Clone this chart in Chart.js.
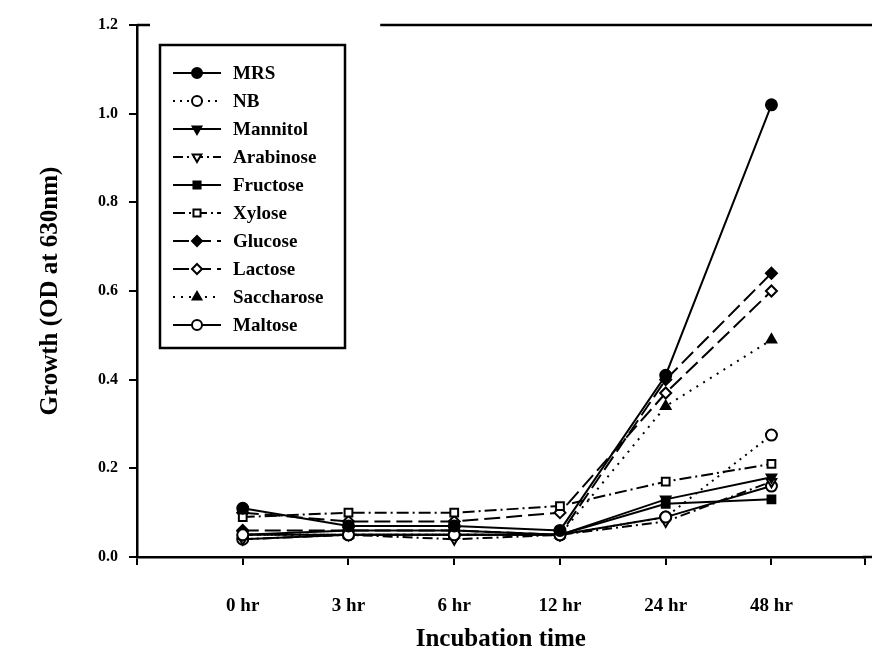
<!DOCTYPE html>
<html>
<head>
<title>Growth by carbon source</title>
<script src="https://cdn.jsdelivr.net/npm/chart.js@4.4.2/dist/chart.umd.min.js"></script>
<style>
html, body {
    margin: 0;
    padding: 0;
    background: #fff;
}
#wrap {
    width: 872px;
    height: 661px;
}
</style>
</head>
<body>
<div id="wrap"><canvas id="chart"></canvas></div>
<script>
// time points (x axis)
const timeLabels = ["0 hr", "3 hr", "6 hr", "12 hr", "24 hr", "48 hr"];

// OD at 630nm
const mrs        = [0.11, 0.07, 0.07, 0.06, 0.41, 1.02];
const nb         = [0.05, 0.05, 0.05, 0.05, 0.09, 0.275];
const mannitol   = [0.05, 0.06, 0.06, 0.05, 0.13, 0.18];
const arabinose  = [0.04, 0.05, 0.04, 0.05, 0.08, 0.17];
const fructose   = [0.05, 0.05, 0.05, 0.05, 0.12, 0.13];
const xylose     = [0.09, 0.10, 0.10, 0.115, 0.17, 0.21];
const glucose    = [0.06, 0.06, 0.06, 0.05, 0.40, 0.64];
const lactose    = [0.10, 0.08, 0.08, 0.10, 0.37, 0.60];
const saccharose = [0.05, 0.05, 0.05, 0.05, 0.34, 0.49];
const maltose    = [0.04, 0.05, 0.05, 0.05, 0.09, 0.16];

const seriesNames = ["MRS", "NB", "Mannitol", "Arabinose", "Fructose", "Xylose", "Glucose", "Lactose", "Saccharose", "Maltose"];
const seriesValues = [mrs, nb, mannitol, arabinose, fructose, xylose, glucose, lactose, saccharose, maltose];

// marker / line style per series (same order as names)
const styles = [
    {point: "circle",   fill: true,  dash: [],            rot: 0},
    {point: "circle",   fill: false, dash: [2, 5],        rot: 0},
    {point: "triangle", fill: true,  dash: [],            rot: 180},
    {point: "triangle", fill: false, dash: [10, 4, 2, 4], rot: 180},
    {point: "rect",     fill: true,  dash: [],            rot: 0},
    {point: "rect",     fill: false, dash: [12, 4, 2, 4], rot: 0},
    {point: "rectRot",  fill: true,  dash: [16, 6],       rot: 0},
    {point: "rectRot",  fill: false, dash: [16, 6],       rot: 0},
    {point: "triangle", fill: true,  dash: [2, 6],        rot: 0},
    {point: "circle",   fill: false, dash: [],            rot: 0}
];

const datasets = seriesNames.map((name, i) => ({
    label: name,
    data: seriesValues[i].map((v, j) => ({x: j, y: v})),
    borderColor: "#000",
    borderWidth: 2,
    borderDash: styles[i].dash,
    pointStyle: styles[i].point,
    pointRotation: styles[i].rot,
    pointRadius: 5.5,
    pointBorderWidth: 2,
    pointBorderColor: "#000",
    pointBackgroundColor: styles[i].fill ? "#000" : "#fff",
    tension: 0
}));

const serif = "'Liberation Serif', 'DejaVu Serif', serif";

// boxed legend drawn inside the plot, upper left
const boxLegend = {
    id: "boxLegend",
    afterDraw(chart) {
        const ctx = chart.ctx;
        const area = chart.chartArea;
        const x0 = area.left + 23, y0 = area.top + 20;
        const w = 185, h = 303, rowH = 28;
        ctx.save();
        ctx.strokeStyle = "#000";
        ctx.lineWidth = 2.5;
        ctx.setLineDash([]);
        ctx.strokeRect(x0, y0, w, h);
        chart.data.datasets.forEach((ds, i) => {
            const y = y0 + 28 + i * rowH;
            ctx.beginPath();
            ctx.lineWidth = 2;
            ctx.setLineDash(ds.borderDash);
            ctx.moveTo(x0 + 13, y);
            ctx.lineTo(x0 + 61, y);
            ctx.stroke();
            ctx.setLineDash([]);
            ctx.fillStyle = ds.pointBackgroundColor;
            ctx.lineWidth = 2;
            Chart.helpers.drawPoint(ctx, {
                pointStyle: ds.pointStyle,
                rotation: ds.pointRotation,
                radius: 5,
                borderWidth: 2
            }, x0 + 37, y);
            ctx.fillStyle = "#000";
            ctx.font = "bold 19px " + serif;
            ctx.textBaseline = "middle";
            ctx.fillText(ds.label, x0 + 73, y + 1);
        });
        ctx.restore();
    }
};

// partial frame line along the top, and the x axis run out to the edge
const frameLines = {
    id: "frameLines",
    afterDraw(chart) {
        const ctx = chart.ctx;
        const xs = chart.scales.x, ys = chart.scales.y;
        const yTop = ys.getPixelForValue(1.2);
        const yBot = ys.getPixelForValue(0);
        ctx.save();
        ctx.strokeStyle = "#000";
        ctx.lineWidth = 2.5;
        ctx.beginPath();
        ctx.moveTo(xs.left, yTop);
        ctx.lineTo(xs.left + 13, yTop);
        ctx.moveTo(xs.getPixelForValue(1.3), yTop);
        ctx.lineTo(chart.width, yTop);
        ctx.moveTo(xs.right - 2, yBot);
        ctx.lineTo(chart.width, yBot);
        ctx.stroke();
        ctx.restore();
    }
};

new Chart(document.getElementById("chart"), {
    type: "line",
    data: {datasets: datasets},
    options: {
        responsive: true,
        maintainAspectRatio: false,
        animation: false,
        layout: {padding: {top: 25, right: 0, left: 0, bottom: 0}},
        plugins: {
            legend: {display: false},
            tooltip: {enabled: false}
        },
        scales: {
            x: {
                type: "linear",
                min: -1,
                max: 5.88,
                afterFit: s => { s.height = 104; s.paddingRight = 0; s.paddingLeft = 0; },
                border: {display: true, color: "#000", width: 2.5},
                grid: {drawOnChartArea: false, color: "#000", tickLength: 8, lineWidth: 2},
                ticks: {
                    stepSize: 1,
                    color: "#000",
                    padding: 30,
                    maxRotation: 0,
                    font: {family: serif, size: 19, weight: "bold"},
                    callback: v => timeLabels[v] || ""
                },
                title: {
                    display: true,
                    text: "Incubation time",
                    color: "#000",
                    padding: {top: 10, bottom: 6},
                    font: {family: serif, size: 25, weight: "bold"}
                }
            },
            y: {
                min: 0,
                max: 1.2,
                afterFit: s => { s.width = 137; },
                border: {display: true, color: "#000", width: 2.5},
                grid: {drawOnChartArea: false, color: "#000", tickLength: 8, lineWidth: 2},
                ticks: {
                    stepSize: 0.2,
                    color: "#000",
                    padding: 11,
                    font: {family: serif, size: 16, weight: "bold"},
                    callback: v => v.toFixed(1)
                },
                title: {
                    display: true,
                    text: "Growth (OD at 630nm)",
                    color: "#000",
                    padding: {top: 36, bottom: 0},
                    font: {family: serif, size: 25, weight: "bold"}
                }
            }
        }
    },
    plugins: [boxLegend, frameLines]
});
</script>
</body>
</html>
